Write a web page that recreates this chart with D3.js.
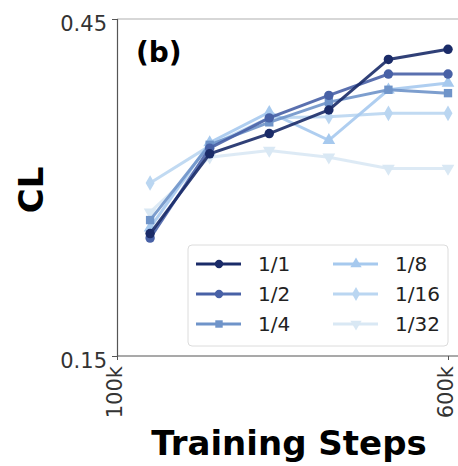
<!DOCTYPE html>
<html>
<head>
<meta charset="utf-8">
<script src="https://cdn.jsdelivr.net/npm/d3@7"></script>
<style>
  body { margin: 0; background: #fff; }
  text { font-family: "DejaVu Sans", sans-serif; }
</style>
</head>
<body>
<div id="chart"></div>
<script>
// training steps (k) and CL values per data ratio
const steps = [150, 240, 330, 420, 510, 600];
const seriesNames = ["1/1", "1/2", "1/4", "1/8", "1/16", "1/32"];
const cl_1_1 = [0.259, 0.330, 0.348, 0.369, 0.414, 0.423];
const cl_1_2 = [0.255, 0.335, 0.362, 0.382, 0.401, 0.401];
const cl_1_4 = [0.271, 0.338, 0.358, 0.376, 0.387, 0.384];
const cl_1_8 = [0.264, 0.340, 0.367, 0.342, 0.387, 0.393];
const cl_1_16 = [0.304, 0.337, 0.362, 0.363, 0.366, 0.366];
const cl_1_32 = [0.278, 0.327, 0.333, 0.327, 0.317, 0.317];
const yTicks = [0.15, 0.45];
const xTicks = [100, 600];

const colors = ["#1a2b68", "#4861a6", "#6f94c9", "#a6c9ee", "#bad6f1", "#d9e8f4"];
const symbols = [d3.symbolCircle, d3.symbolCircle, d3.symbolSquare, d3.symbolTriangle, d3.symbolDiamond, d3.symbolTriangle];
const rotations = [0, 0, 0, 0, 0, 180];
const allSeries = [cl_1_1, cl_1_2, cl_1_4, cl_1_8, cl_1_16, cl_1_32];

const width = 458, height = 466;

const svg = d3.select("#chart").append("svg")
    .attr("width", width)
    .attr("height", height);

const x = d3.scaleLinear().domain([100, 600]).range([117, 448]);
const y = d3.scaleLinear().domain([0.15, 0.45]).range([356, 19]);

// frame top
svg.append("line")
    .attr("x1", 117).attr("x2", width)
    .attr("y1", 19).attr("y2", 19)
    .attr("stroke", "#b0b0b0").attr("stroke-width", 1.2);

// y axis
const yAxis = svg.append("g")
    .attr("transform", "translate(117,0)")
    .call(d3.axisLeft(y).tickValues(yTicks).tickSize(5).tickPadding(5).tickFormat(d3.format(".2f")));
yAxis.select(".domain").attr("stroke", "#555").attr("stroke-width", 1.2);
yAxis.selectAll(".tick line").attr("stroke", "#555");
yAxis.selectAll(".tick text")
    .style("font-size", "21px")
    .attr("dy", "0.55em")
    .attr("fill", "#333");

// x axis
const xAxis = svg.append("g")
    .attr("transform", "translate(0,356)")
    .call(d3.axisBottom(x).tickValues(xTicks).tickSize(4).tickSizeOuter(0).tickFormat(d => d + "k"));
xAxis.select(".domain").attr("stroke", "#555").attr("stroke-width", 1.2)
    .attr("d", "M117,0H" + width);
xAxis.selectAll(".tick line").attr("stroke", "#555");
xAxis.selectAll(".tick text")
    .style("font-size", "21px")
    .attr("fill", "#333")
    .attr("text-anchor", "end")
    .attr("dy", "0.22em")
    .attr("transform", "translate(0,10) rotate(-90)")
    .attr("x", 0).attr("y", 0);

// axis labels
svg.append("text")
    .attr("transform", "translate(43,190) rotate(-90)")
    .attr("text-anchor", "middle")
    .style("font-size", "34px")
    .attr("font-weight", "bold")
    .text("CL");

svg.append("text")
    .attr("x", 289)
    .attr("y", 455)
    .attr("text-anchor", "middle")
    .style("font-size", "34px")
    .attr("font-weight", "bold")
    .text("Training Steps");

svg.append("text")
    .attr("x", 136)
    .attr("y", 62)
    .style("font-size", "28px")
    .attr("font-weight", "bold")
    .text("(b)");

// lines
const line = d3.line()
    .x((d, i) => x(steps[i]))
    .y(d => y(d));

const sym = (i, size) => d3.symbol().type(symbols[i]).size(size)();

// lightest first so the darker ones sit on top
for (let i = allSeries.length - 1; i >= 0; i--) {
    const g = svg.append("g");
    g.append("path")
        .attr("d", line(allSeries[i]))
        .attr("fill", "none")
        .attr("stroke", colors[i])
        .attr("stroke-width", 3)
        .attr("stroke-opacity", 0.9);
    g.selectAll("path.pt")
        .data(allSeries[i])
        .join("path")
        .attr("class", "pt")
        .attr("d", sym(i, 70))
        .attr("fill", colors[i])
        .attr("transform", (d, j) => "translate(" + x(steps[j]) + "," + y(d) + ") rotate(" + rotations[i] + ")");
}

// legend
const legend = svg.append("g");
legend.append("rect")
    .attr("x", 188).attr("y", 245)
    .attr("width", 260).attr("height", 101)
    .attr("rx", 4)
    .attr("fill", "#fff")
    .attr("fill-opacity", 0.85)
    .attr("stroke", "#dcdcdc");

seriesNames.forEach((name, i) => {
    const col = Math.floor(i / 3), row = i % 3;
    const lx = 196 + col * 137, ly = 264 + row * 30;
    legend.append("line")
        .attr("x1", lx).attr("x2", lx + 45)
        .attr("y1", ly).attr("y2", ly)
        .attr("stroke", colors[i]).attr("stroke-width", 2.8);
    legend.append("path")
        .attr("d", sym(i, 55))
        .attr("fill", colors[i])
        .attr("transform", "translate(" + (lx + 23) + "," + ly + ") rotate(" + rotations[i] + ")");
    legend.append("text")
        .attr("x", lx + 62)
        .attr("y", ly)
        .attr("dy", "0.36em")
        .style("font-size", "20px")
        .attr("fill", "#222")
        .text(name);
});
</script>
</body>
</html>
